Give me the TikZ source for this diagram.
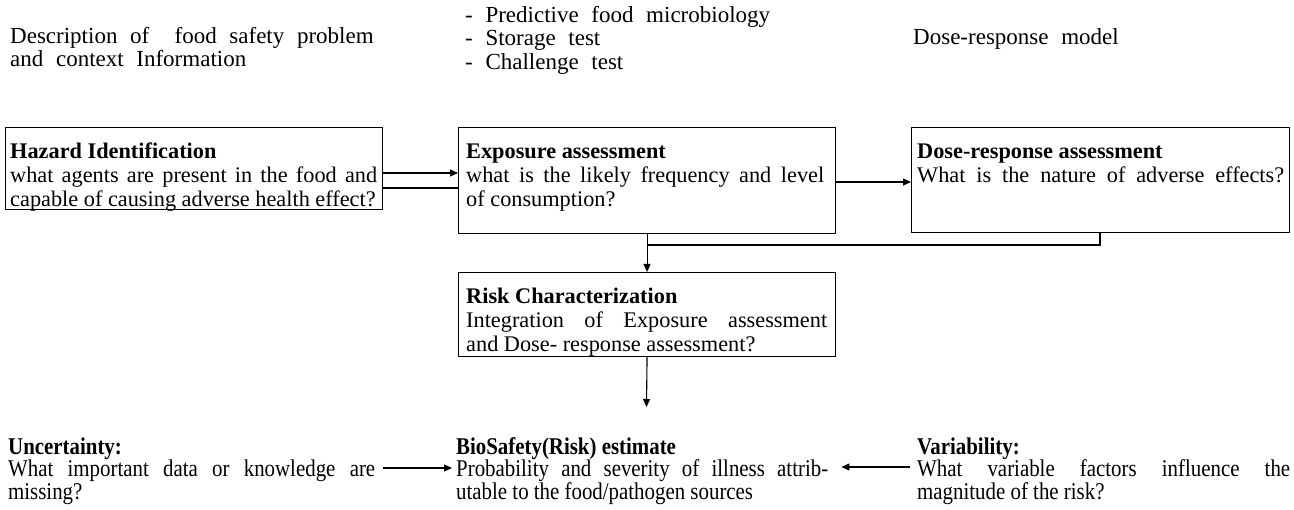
\documentclass[tikz,border=0pt]{standalone}
\usepackage{fontspec}
\setmainfont{Liberation Serif}
\newfontfamily\condfont[FakeStretch=0.87]{Liberation Serif}
\usetikzlibrary{arrows.meta}
\newcommand\firstln{\rule{0pt}{17pt}}
\newcommand\widesp{\spaceskip=0.55em plus 0.1em\relax}
\begin{document}
\begin{tikzpicture}[x=1pt,y=-1pt,
  box/.style={draw, line width=1.1pt, inner sep=0pt, anchor=north west},
  boxtext/.style={inner sep=0pt, anchor=north west, align=justify, font=\fontsize{22.3}{24}\selectfont},
  toptext/.style={inner sep=0pt, anchor=north west, align=left, font=\fontsize{23}{23.5}\selectfont},
  bottext/.style={inner sep=0pt, anchor=north west, align=justify, font=\condfont\fontsize{24}{22.5}\selectfont},
  conn/.style={line width=1.1pt},
  arr/.style={conn, -{Triangle[length=8pt,width=7pt]}}]
\useasboundingbox (0,0) rectangle (1294,510);

% top context texts
\node[toptext, text width=420pt] (ctx) at (10,26) {\widesp\firstln Description of \ food safety problem\\and context Information};
\node[toptext, text width=400pt] (pred) at (465,5) {\widesp\firstln - Predictive food microbiology\\- Storage test\\- Challenge test};
\node[toptext, text width=370pt] (drm) at (913,27) {\widesp\firstln Dose-response model};

% boxes
\node[box, minimum width=377pt, minimum height=82pt] (haz) at (5,127) {};
\node[box, minimum width=377pt, minimum height=106pt] (exp) at (458,127) {};
\node[box, minimum width=378pt, minimum height=105pt] (dose) at (911,127) {};
\node[box, minimum width=377pt, minimum height=84pt] (risk) at (458,272) {};

% box texts
\node[boxtext, text width=367pt] (hazt) at (10,141) {\firstln\textbf{Hazard Identification}\\what agents are present in the food and\linebreak capable of causing adverse health effect?};
\node[boxtext, text width=358pt] (expt) at (466,141) {\firstln\textbf{Exposure assessment}\\what is the likely frequency and level\linebreak of consumption?};
\node[boxtext, text width=367pt] (doset) at (917,141) {\firstln\textbf{Dose-response assessment}\\What is the nature of adverse effects?\linebreak\mbox{}};
\node[boxtext, text width=361pt] (riskt) at (466,286) {\firstln\textbf{Risk Characterization}\\Integration of Exposure assessment\linebreak and Dose- response assessment?};

% bottom texts
\node[bottext, text width=367pt] (unc) at (8,437) {\firstln\textbf{Uncertainty:}\\What important data or knowledge are\linebreak missing?};
\node[bottext, text width=372pt] (bio) at (456,437) {\firstln\textbf{BioSafety(Risk) estimate}\\Probability and severity of illness attrib-\linebreak utable to the food/pathogen sources};
\node[bottext, text width=373pt] (var) at (917,437) {\firstln\textbf{Variability:}\\What variable factors influence the\linebreak magnitude of the risk?};

% connectors
\draw[arr] (haz.east |- 0,173) -- (exp.west |- 0,173);
\draw[conn] (haz.east |- 0,188) -- (exp.west |- 0,188);
\draw[arr] (exp.east |- 0,182) -- (dose.west |- 0,182);
\draw[arr] (exp.south) -- (risk.north);
\draw[conn] (dose.south -| 1100,0) |- (exp.south |- 0,245);
\coordinate (bioin) at (646.5,407);
\draw[arr] (risk.south) -- (bioin);
\draw[arr] ([xshift=8pt]unc.east |- 0,468) -- ([xshift=-4pt]bio.west |- 0,468);
\draw[arr] ([xshift=-7pt]var.west |- 0,467) -- ([xshift=13pt]bio.east |- 0,467);
\end{tikzpicture}
\end{document}
